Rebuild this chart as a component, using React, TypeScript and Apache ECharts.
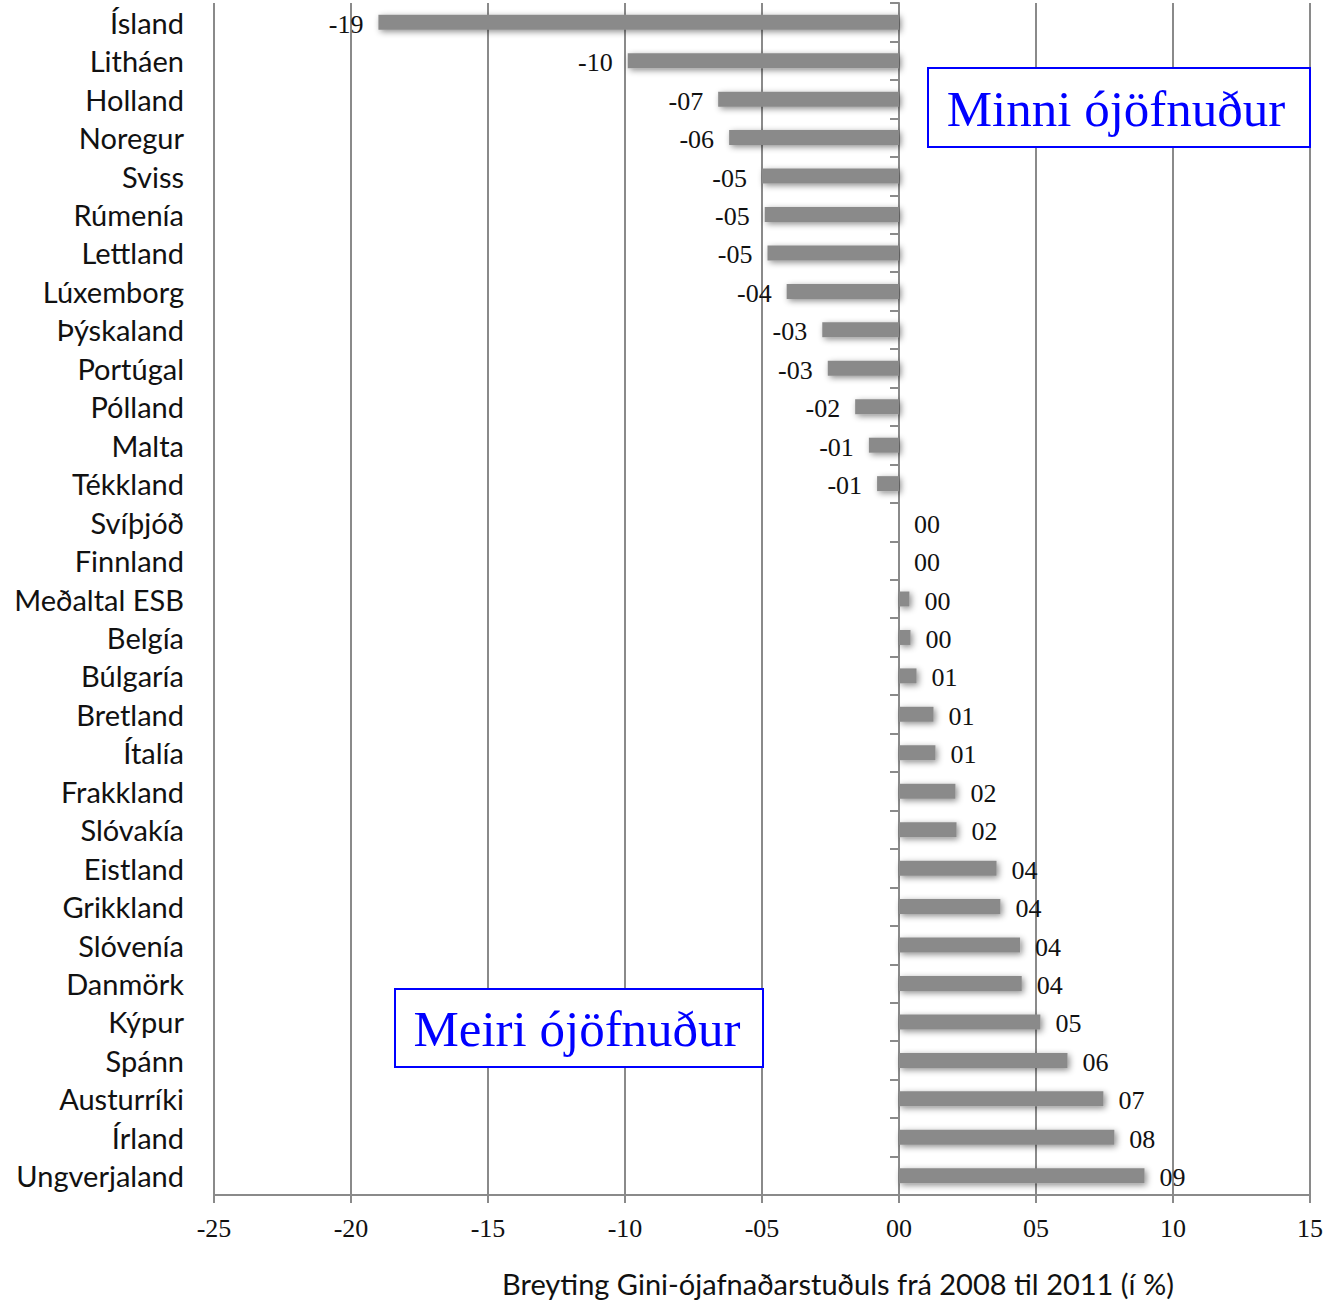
import React, { useEffect, useRef } from "react";
import * as echarts from "echarts";

const countries = [
  "Ísland", "Litháen", "Holland", "Noregur", "Sviss", "Rúmenía", "Lettland", "Lúxemborg",
  "Þýskaland", "Portúgal", "Pólland", "Malta", "Tékkland", "Svíþjóð", "Finnland",
  "Meðaltal ESB", "Belgía", "Búlgaría", "Bretland", "Ítalía", "Frakkland", "Slóvakía",
  "Eistland", "Grikkland", "Slóvenía", "Danmörk", "Kýpur", "Spánn", "Austurríki",
  "Írland", "Ungverjaland",
];

const changes = [
  -19.0, -9.9, -6.6, -6.2, -5.0, -4.9, -4.8, -4.1,
  -2.8, -2.6, -1.6, -1.1, -0.8, 0.0, 0.0,
  0.38, 0.42, 0.64, 1.26, 1.33, 2.06, 2.1,
  3.56, 3.7, 4.42, 4.48, 5.16, 6.15, 7.46,
  7.86, 8.96,
];

const xTicks = { min: -25, max: 15, interval: 5 };
const axisTitle = "Breyting Gini-ójafnaðarstuðuls frá 2008 til 2011 (í %)";
const noteLess = "Minni ójöfnuður";
const noteMore = "Meiri ójöfnuður";

const fmt = (v: number) => {
  const r = Math.round(v);
  const a = Math.abs(r);
  const s = (a < 10 ? "0" : "") + a;
  return r < 0 ? "-" + s : s;
};

export default function App() {
  const ref = useRef<HTMLDivElement>(null);
  useEffect(() => {
    if (!ref.current) return;
    const chart = echarts.init(ref.current, null, { renderer: "svg" });
    const grid = "#8a8a8a";
    chart.setOption({
      animation: false,
      grid: { left: 214, right: 29, top: 3, bottom: 105 },
      xAxis: {
        type: "value",
        min: xTicks.min,
        max: xTicks.max,
        interval: xTicks.interval,
        axisLine: { show: true, onZero: false, lineStyle: { color: grid, width: 2 } },
        axisTick: { show: true, length: 8, lineStyle: { color: grid, width: 2 } },
        splitLine: { show: true, lineStyle: { color: grid, width: 2 } },
        axisLabel: {
          formatter: (v: number) => fmt(v),
          fontFamily: "Liberation Serif",
          fontSize: 26,
          color: "#111",
          margin: 20,
        },
      },
      yAxis: [
        {
          type: "category",
          data: countries,
          inverse: true,
          axisLine: { show: false, onZero: false },
          axisTick: { show: false },
          axisLabel: {
            fontFamily: "Lato",
            fontSize: 29,
            color: "#111",
            margin: 30,
          },
        },
        {
          type: "category",
          data: countries,
          inverse: true,
          position: "left",
          axisLine: { show: true, onZero: true, lineStyle: { color: grid, width: 2 } },
          axisTick: { show: true, length: 9, lineStyle: { color: grid, width: 2 } },
          axisLabel: { show: false },
        },
      ],
      series: [
        {
          type: "bar",
          yAxisIndex: 0,
          barWidth: 15,
          data: changes.map((v) => ({
            value: v,
            label: { position: v < 0 ? "left" : "right" },
          })),
          itemStyle: {
            color: "#8a8a8a",
            shadowBlur: 6,
            shadowColor: "rgba(0,0,0,0.45)",
            shadowOffsetX: 2,
            shadowOffsetY: 2,
          },
          label: {
            show: true,
            distance: 15,
            offset: [0, 2],
            formatter: (p: any) => fmt(p.value),
            fontFamily: "Liberation Serif",
            fontSize: 26,
            color: "#111",
          },
        },
      ],
      graphic: [
        {
          type: "group",
          left: 927,
          top: 67,
          z: 100,
          children: [
            { type: "rect", z: 100, shape: { x: 0, y: 0, width: 382, height: 79 }, style: { fill: "#fff", stroke: "#0000ff", lineWidth: 2 } },
            {
              type: "text",
              z: 101,
              x: 188,
              y: 41,
              style: { text: noteLess, fill: "#0000ff", font: "51px 'Liberation Serif'", align: "center", verticalAlign: "middle" },
            },
          ],
        },
        {
          type: "group",
          left: 394,
          top: 988,
          z: 100,
          children: [
            { type: "rect", z: 100, shape: { x: 0, y: 0, width: 368, height: 78 }, style: { fill: "#fff", stroke: "#0000ff", lineWidth: 2 } },
            {
              type: "text",
              z: 101,
              x: 182,
              y: 40,
              style: { text: noteMore, fill: "#0000ff", font: "51px 'Liberation Serif'", align: "center", verticalAlign: "middle" },
            },
          ],
        },
        {
          type: "text",
          x: 838,
          y: 1283,
          style: { text: axisTitle, fill: "#111", font: "29px Lato", align: "center", verticalAlign: "middle" },
        },
      ],
    });
    return () => chart.dispose();
  }, []);
  return <div ref={ref} style={{ position: "absolute", left: 0, top: 0, width: 1339, height: 1300 }} />;
}
